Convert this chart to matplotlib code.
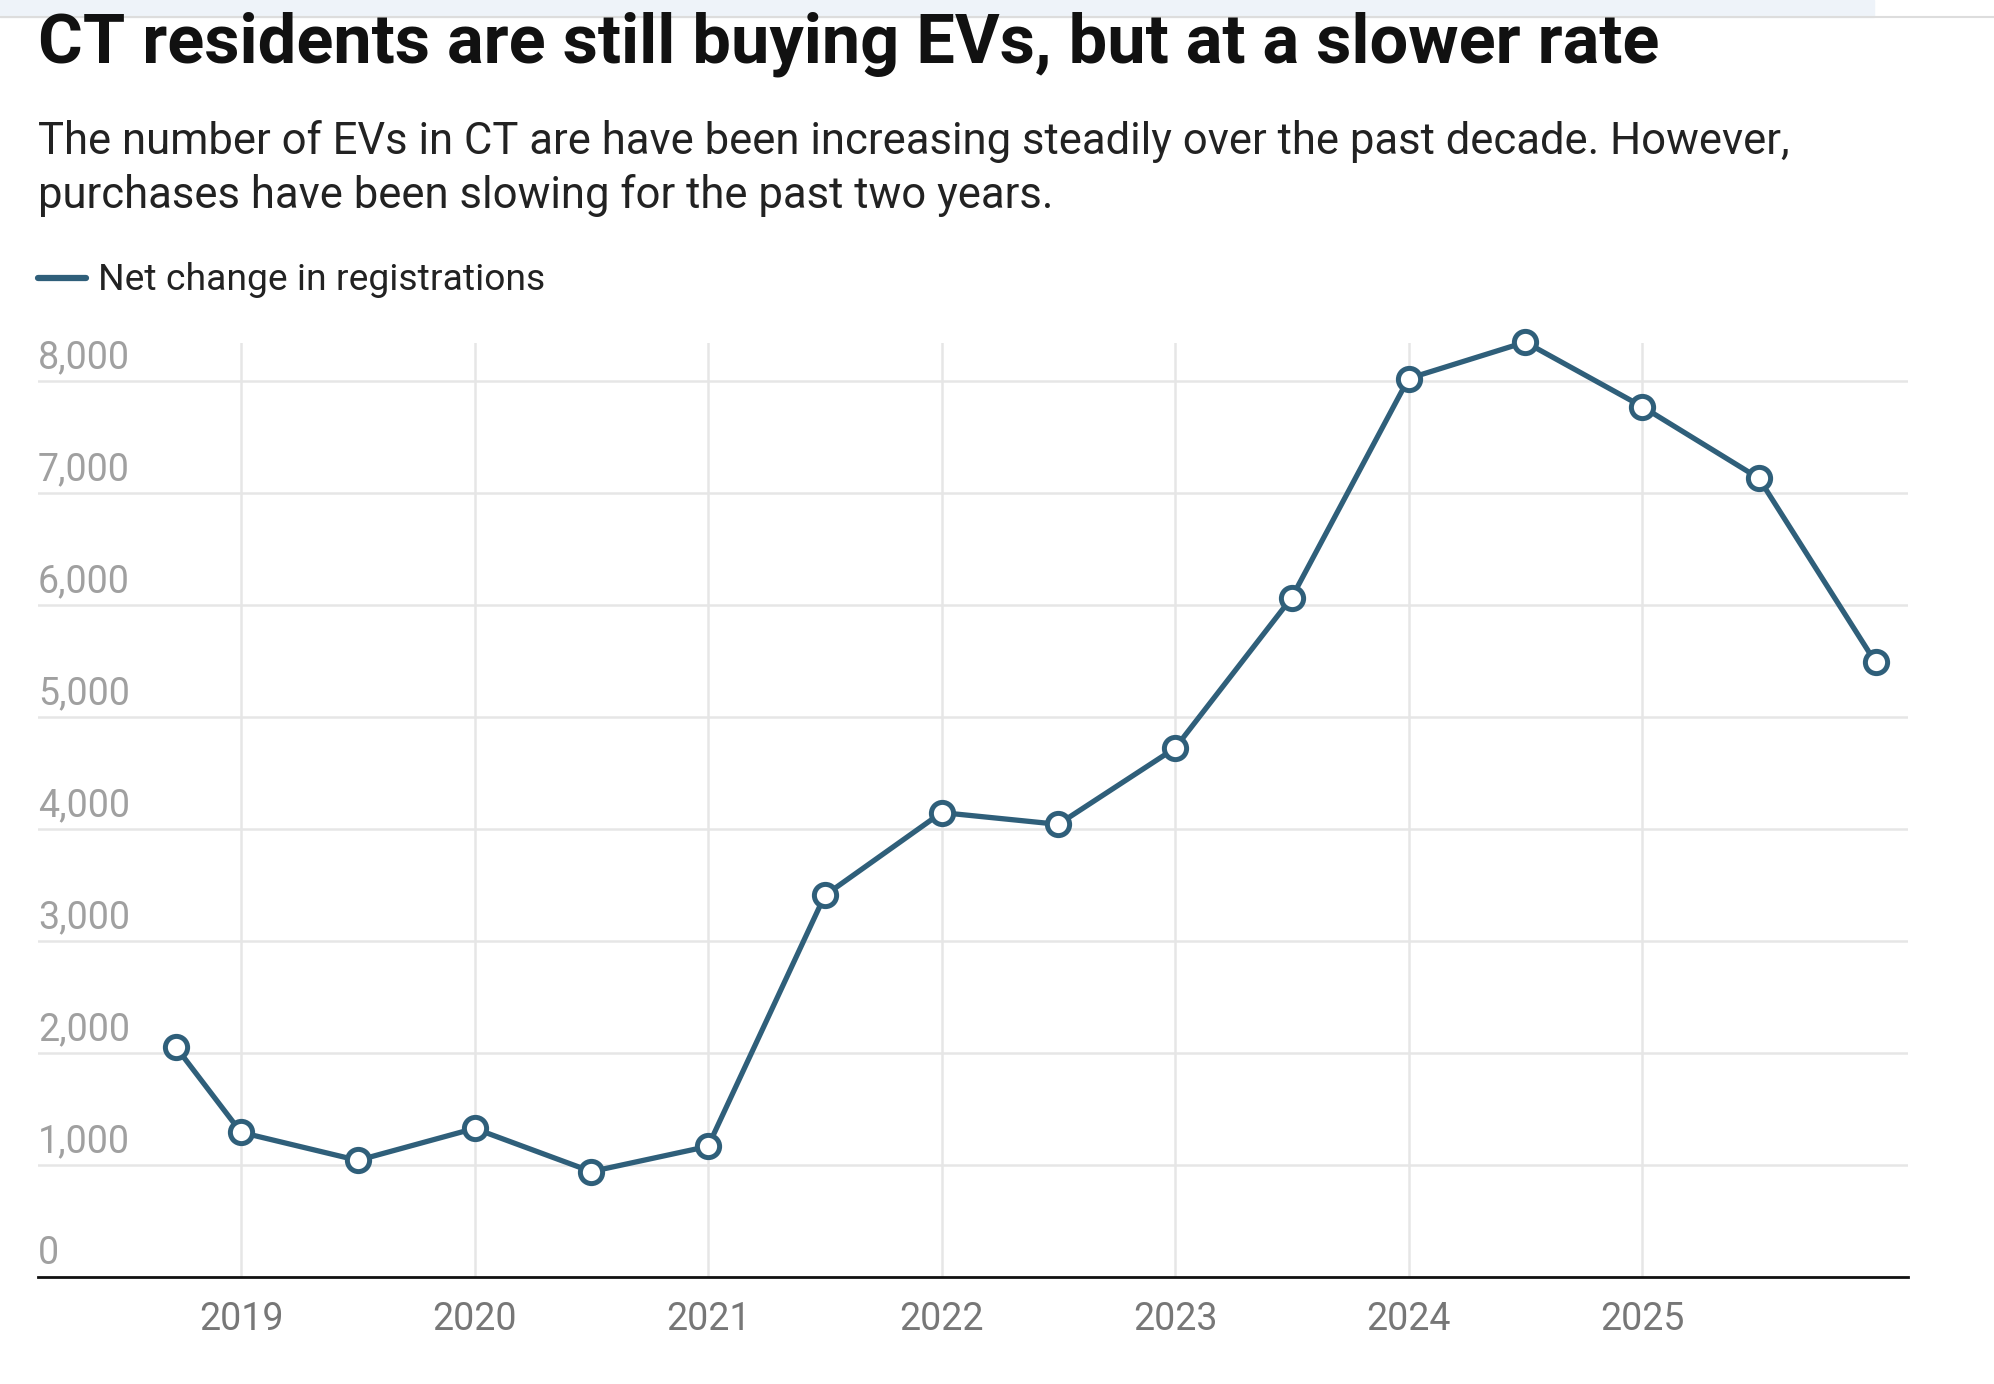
import matplotlib
matplotlib.use("Agg")
import matplotlib.pyplot as plt
from matplotlib.patches import Rectangle
from matplotlib.lines import Line2D

# data (half-year steps, first point is late 2018)
dates = [2018.72, 2019.0, 2019.5, 2020.0, 2020.5, 2021.0, 2021.5, 2022.0,
         2022.5, 2023.0, 2023.5, 2024.0, 2024.5, 2025.0, 2025.5, 2026.0]
net_change = [2060, 1295, 1045, 1330, 945, 1170, 3410, 4150,
              4045, 4725, 6070, 8025, 8350, 7775, 7135, 5490]
year_ticks = [2019, 2020, 2021, 2022, 2023, 2024, 2025]
y_ticks = [0, 1000, 2000, 3000, 4000, 5000, 6000, 7000, 8000]

line_col = "#2f5f7a"
grid_col = "#e6e6e6"

plt.rcParams['font.family'] = ['Roboto', 'DejaVu Sans']

fig = plt.figure(figsize=(19.94, 13.84), dpi=100)

# browser-ish strip at the very top
fig.patches.append(Rectangle((0, 0.988), 0.94, 0.012, transform=fig.transFigure,
                             color="#eef3f9", zorder=0))
fig.lines.append(Line2D([0, 1], [0.9875, 0.9875], transform=fig.transFigure,
                        color="#dddddd", lw=1.5))

fig.text(0.019, 0.968, "CT residents are still buying EVs, but at a slower rate",
         fontsize=49.3, fontweight="bold", va="center", ha="left", color="#111111")
fig.text(0.019, 0.898, "The number of EVs in CT are have been increasing steadily over the past decade. However,",
         fontsize=31.4, va="center", ha="left", color="#222222")
fig.text(0.019, 0.859, "purchases have been slowing for the past two years.",
         fontsize=31.4, va="center", ha="left", color="#222222")

# legend
fig.lines.append(Line2D([0.019, 0.043], [0.799, 0.799], transform=fig.transFigure,
                        color=line_col, lw=4.5, solid_capstyle="round"))
fig.text(0.049, 0.798, "Net change in registrations", fontsize=26.8, va="center",
         ha="left", color="#222222")

ax = fig.add_axes([0.019, 0.077, 0.938, 0.675])
ax.set_xlim(2018.13, 2026.14)
ax.set_ylim(0, 8340)

for v in y_ticks[1:]:
    ax.axhline(v, color=grid_col, lw=1.8, zorder=0)
for yr in year_ticks:
    ax.axvline(yr, color=grid_col, lw=1.8, zorder=0)

ax.plot(dates, net_change, color=line_col, lw=3.8, marker="o", markersize=16,
        markerfacecolor="white", markeredgecolor=line_col, markeredgewidth=3.6,
        clip_on=False, zorder=3)

for spine in ["top", "right", "left"]:
    ax.spines[spine].set_visible(False)
ax.spines["bottom"].set_color("#111111")
ax.spines["bottom"].set_linewidth(2)

ax.set_yticks([])
for v in y_ticks:
    ax.text(2018.13, v + 45, f"{v:,}", fontsize=27, color="#a0a0a0",
            ha="left", va="bottom")

ax.set_xticks(year_ticks)
ax.set_xticklabels([str(y) for y in year_ticks], fontsize=27, color="#777777")
ax.tick_params(axis="x", length=0, pad=17)

fig.savefig("out.png", dpi=100, facecolor="white")
